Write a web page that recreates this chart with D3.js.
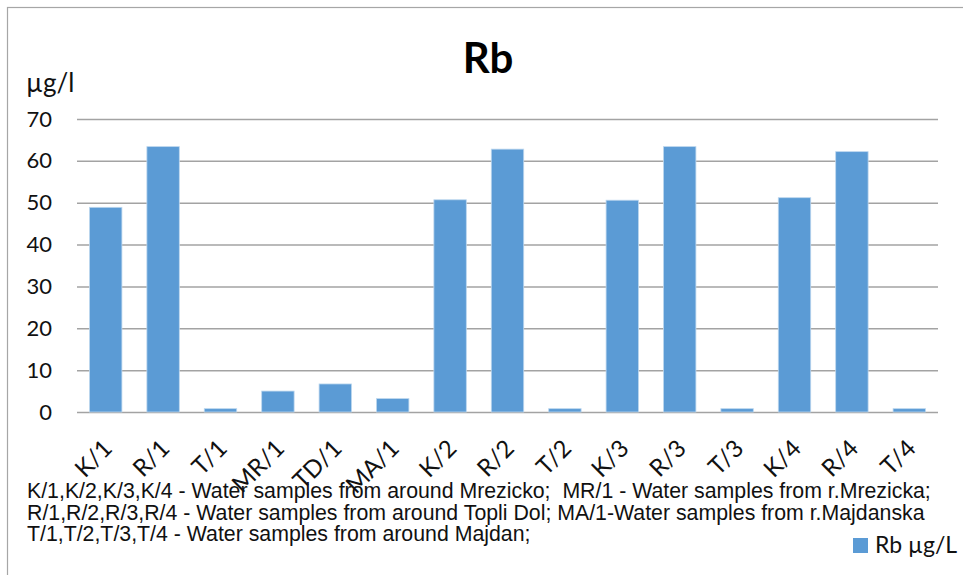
<!DOCTYPE html>
<html>
<head>
<meta charset="utf-8">
<script src="https://cdn.jsdelivr.net/npm/d3@7/dist/d3.min.js"></script>
<style>
  html, body { margin: 0; padding: 0; background: #fff; }
  svg { display: block; }
</style>
</head>
<body>
<svg id="chart" width="963" height="575"></svg>
<script>
// Rubidium concentration per water sample (µg/l)
const categories = ["K/1", "R/1", "T/1", "MR/1", "TD/1", "MA/1", "K/2", "R/2", "T/2", "K/3", "R/3", "T/3", "K/4", "R/4", "T/4"];
const rbValues = [48.9, 63.4, 0.8, 5.0, 6.7, 3.2, 50.7, 62.8, 0.8, 50.6, 63.4, 0.8, 51.2, 62.2, 0.8];
const yTicks = [0, 10, 20, 30, 40, 50, 60, 70];
const notes = [
  "K/1,K/2,K/3,K/4 - Water samples from around Mrezicko;  MR/1 - Water samples from r.Mrezicka;",
  "R/1,R/2,R/3,R/4 - Water samples from around Topli Dol; MA/1-Water samples from r.Majdanska",
  "T/1,T/2,T/3,T/4 - Water samples from around Majdan;"
];
const seriesName = "Rb µg/L";
const titleText = "Rb";
const unitText = "µg/l";

const svg = d3.select("#chart");
const W = 963, H = 575;
const margin = { left: 77, right: 25, top: 119, bottom: 163 };
const plotW = W - margin.left - margin.right;
const plotH = H - margin.top - margin.bottom;
const sans = "Lato, 'Open Sans', sans-serif";
const barColor = "#5b9bd5";

// outer chart frame
svg.append("rect")
  .attr("x", 7.5).attr("y", 7.5)
  .attr("width", W).attr("height", H)
  .attr("fill", "#fff").attr("stroke", "#a6a6a6").attr("stroke-width", 1.2);

const x = d3.scaleBand().domain(categories).range([0, plotW]).paddingInner(0.435).paddingOuter(0.2175);
const y = d3.scaleLinear().domain([0, 70]).range([plotH, 0]);

const g = svg.append("g").attr("transform", `translate(${margin.left},${margin.top})`);

// horizontal gridlines and y labels
const yAxis = d3.axisLeft(y).tickValues(yTicks).tickSize(-plotW).tickPadding(25);
const ya = g.append("g").call(yAxis);
ya.select(".domain").remove();
ya.selectAll(".tick line").attr("stroke", "#a3a3a3").attr("stroke-width", 1.5);
ya.selectAll(".tick text")
  .attr("font-family", sans).attr("font-size", 22).attr("fill", "#111");

// bars
g.selectAll("rect.bar")
  .data(rbValues)
  .join("rect")
  .attr("class", "bar")
  .attr("x", (d, i) => x(categories[i]))
  .attr("y", d => y(d))
  .attr("width", x.bandwidth())
  .attr("height", d => plotH - y(d))
  .attr("fill", barColor)
  .attr("stroke", "#bdd7ee")
  .attr("stroke-width", 0.8);

// x axis labels, rotated
const xa = g.append("g").attr("transform", `translate(0,${plotH})`)
  .call(d3.axisBottom(x).tickSize(0).tickPadding(0));
xa.select(".domain").remove();
xa.selectAll(".tick text")
  .attr("font-family", sans).attr("font-size", 24).attr("fill", "#111")
  .attr("text-anchor", "end")
  .attr("dy", null)
  .attr("transform", "translate(8,38) rotate(-45)");

// title
svg.append("text")
  .attr("x", 488).attr("y", 73)
  .attr("text-anchor", "middle")
  .attr("font-family", sans).attr("font-weight", "bold").attr("font-size", 42)
  .attr("fill", "#000")
  .text(titleText);

// unit label
svg.append("text")
  .attr("x", 26).attr("y", 92)
  .attr("font-family", sans).attr("font-size", 26).attr("fill", "#111")
  .text(unitText);

// footnotes
svg.append("g").selectAll("text")
  .data(notes)
  .join("text")
  .attr("x", 27)
  .attr("y", (d, i) => 498 + i * 21.5)
  .attr("xml:space", "preserve")
  .style("white-space", "pre")
  .attr("font-family", "'Liberation Sans', Arial, sans-serif")
  .attr("font-size", 21.3).attr("fill", "#111")
  .text(d => d);

// legend
const lg = svg.append("g").attr("transform", "translate(853,538)");
lg.append("rect").attr("width", 15).attr("height", 15).attr("fill", barColor);
lg.append("text").attr("x", 22).attr("y", 15)
  .attr("font-family", sans).attr("font-size", 23).attr("fill", "#111")
  .text(seriesName);
</script>
</body>
</html>
